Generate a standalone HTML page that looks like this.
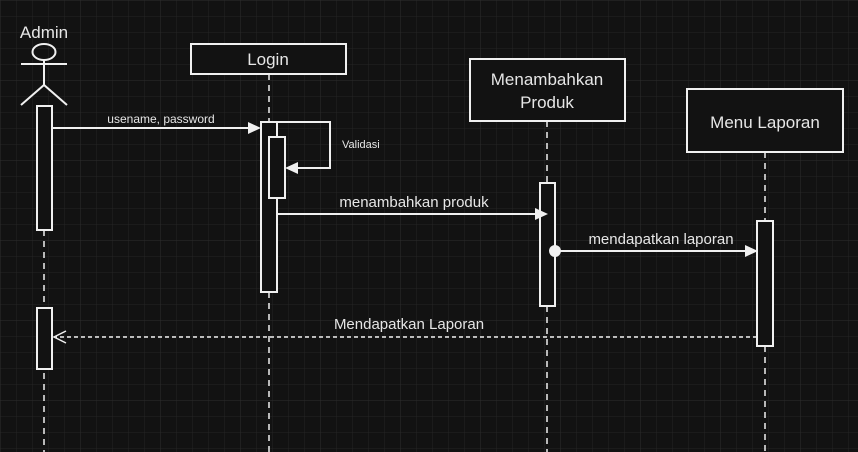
<!DOCTYPE html>
<html><head><style>
html,body{margin:0;padding:0;background:#121212;}
svg{display:block;}
text{font-family:"Liberation Sans",Arial,sans-serif;fill:#e6e6e6;}
</style></head><body>
<svg width="858" height="452" xmlns="http://www.w3.org/2000/svg">
<defs>
<pattern id="g" width="16" height="16" patternUnits="userSpaceOnUse">
<path d="M16 0H0V16" fill="none" stroke="#242424" stroke-width="1"/>
</pattern>
<pattern id="G" width="80" height="80" patternUnits="userSpaceOnUse">
<path d="M80 0H0V80" fill="none" stroke="#2e2e2e" stroke-width="1"/>
</pattern>
</defs>
<rect width="858" height="452" fill="#121212"/>
<rect width="858" height="452" fill="url(#g)"/>
<rect width="858" height="452" fill="url(#G)"/>
<g stroke="#f0f0f0" stroke-width="2" fill="none">
<path d="M44 230V452M269 74V122M269 292V452M547 121V183M547 306V452M765 152V221M765 346V452" stroke-dasharray="6 5" stroke-width="1.5"/>
<ellipse cx="44" cy="52" rx="11.5" ry="8"/>
<path d="M44 60V85M21 64H67M21 105L44 85L67 105"/>
<rect x="191" y="44" width="155" height="30" fill="#121212"/>
<rect x="470" y="59" width="155" height="62" fill="#121212"/>
<rect x="687" y="89" width="156" height="63" fill="#121212"/>
<rect x="37" y="106" width="15" height="124" fill="#121212"/>
<rect x="37" y="308" width="15" height="61" fill="#121212"/>
<rect x="261" y="122" width="16" height="170" fill="#121212"/>
<rect x="269" y="137" width="16" height="61" fill="#121212"/>
<rect x="540" y="183" width="15" height="123" fill="#121212"/>
<rect x="757" y="221" width="16" height="125" fill="#121212"/>
<path d="M52 128H250"/>
<path d="M277 122H330V168H296"/>
<path d="M277 214H536"/>
<path d="M555 251H746"/>
<path d="M757 337H56" stroke-dasharray="4 3" stroke-width="1.5"/>
<path d="M66 331L54 337L66 343" stroke-width="1.5"/>
</g>
<g fill="#f0f0f0">
<path d="M261 128L248 122V134Z"/>
<path d="M285 168L298 162V174Z"/>
<path d="M548 214L535 208V220Z"/>
<path d="M758 251L745 245V257Z"/>
<circle cx="555" cy="251" r="6"/>
</g>
<text x="44" y="38" font-size="17" text-anchor="middle">Admin</text>
<text x="268" y="65" font-size="17" text-anchor="middle">Login</text>
<text x="547" y="85" font-size="17" text-anchor="middle">Menambahkan</text>
<text x="547" y="108" font-size="17" text-anchor="middle">Produk</text>
<text x="765" y="128" font-size="17" text-anchor="middle">Menu Laporan</text>
<text x="161" y="123" font-size="12" text-anchor="middle">usename, password</text>
<text x="342" y="148" font-size="11">Validasi</text>
<text x="414" y="207" font-size="15" text-anchor="middle">menambahkan produk</text>
<text x="661" y="244" font-size="15" text-anchor="middle">mendapatkan laporan</text>
<text x="409" y="329" font-size="15" text-anchor="middle">Mendapatkan Laporan</text>
</svg>
</body></html>
